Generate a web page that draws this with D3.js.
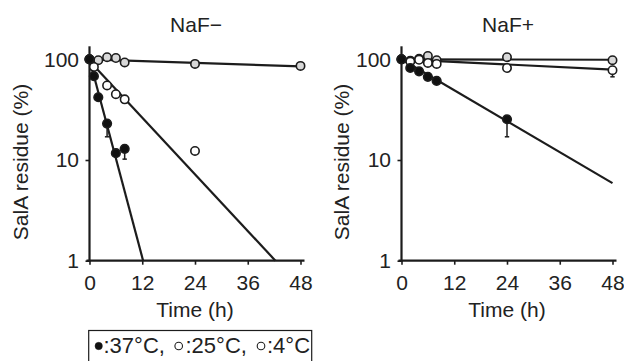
<!DOCTYPE html>
<html>
<head>
<meta charset="utf-8">
<script src="https://cdn.jsdelivr.net/npm/d3@7"></script>
<style>
  html, body { margin: 0; padding: 0; background: #fff; }
  svg { display: block; }
  text { font-family: "Liberation Sans", Arial, Helvetica, sans-serif; fill: #222; }
</style>
</head>
<body>
<svg id="chart" width="624" height="361"></svg>
<script>
/* ── Data ─────────────────────────────────────────────────────────── */
const xTicks = [0, 12, 24, 36, 48];
const yTicks = [1, 10, 100];
const panelTitles = ["NaF\u2212", "NaF+"];

/* NaF− */
const minus37Times = [0, 1, 2, 4, 6, 8];
const minus37 = [100, 68, 42, 23, 11.7, 12.9];
const minus37Low = [null, null, null, 17, null, 10.2];
const minus25Times = [0, 1, 4, 6, 8, 24];
const minus25 = [100, 84, 55, 45, 40, 12.3];
const minus4Times = [0, 2, 4, 6, 8, 24, 48];
const minus4 = [100, 98, 105, 103, 93, 90, 86];

/* NaF+ */
const plus37Times = [0, 2, 4, 6, 8, 24];
const plus37 = [100, 82, 76, 67, 61, 25.4];
const plus37Low = [null, null, null, 63, null, 17];
const plus25Times = [0, 2, 4, 6, 8, 24, 48];
const plus25 = [100, 95, 99, 92, 90, 82, 78];
const plus25Low = [null, null, null, null, null, null, 67];
const plus4Times = [0, 2, 4, 6, 8, 24, 48];
const plus4 = [100, 97, 101, 108, 98, 105, 98];

/* Fitted exponential-decay lines: [time, value] at both ends */
const minus37Fit = [[0, 100], [12.2, 1]];
const minus25Fit = [[0, 96], [42.3, 1]];
const minus4Fit  = [[0, 100], [48, 85]];
const plus37Fit  = [[0, 100], [48, 5.9]];
const plus25Fit  = [[0, 100], [48, 79]];
const plus4Fit   = [[0, 100], [48, 99]];

const legendItems = [
  { label: ":37\u00b0C,", fill: "#111", open: false },
  { label: ":25\u00b0C,", fill: "#fff", open: true },
  { label: ":4\u00b0C",   fill: "#fff", open: true },
];

/* ── Series styles ────────────────────────────────────────────────── */
const STYLE = {
  c37: { fill: "#111",    r: 4.3 },
  c25: { fill: "#ffffff", r: 4.2 },
  c4:  { fill: "#d8d8d8", r: 4.2 },
};

function series(times, values, low, fit, style) {
  return {
    points: times.map((t, i) => ({ t, v: values[i], low: low ? low[i] : null })),
    fit, style,
  };
}

const panels = [
  { title: panelTitles[0], left: 89.5, labelX: 28, series: [
      series(minus4Times, minus4, null, minus4Fit, STYLE.c4),
      series(minus25Times, minus25, null, minus25Fit, STYLE.c25),
      series(minus37Times, minus37, minus37Low, minus37Fit, STYLE.c37),
  ]},
  { title: panelTitles[1], left: 401.5, labelX: 349, series: [
      series(plus4Times, plus4, null, plus4Fit, STYLE.c4),
      series(plus25Times, plus25, plus25Low, plus25Fit, STYLE.c25),
      series(plus37Times, plus37, plus37Low, plus37Fit, STYLE.c37),
  ]},
];

/* ── Layout ───────────────────────────────────────────────────────── */
const TOP = 59.3;
const W = 211, H = 201.4;
const INK = "#1c1c1c";

const svg = d3.select("#chart");
const x = d3.scaleLinear().domain([0, 48]).range([0, W]);
const y = d3.scaleLog().domain([1, 100]).range([H, 0]);

panels.forEach(p => {
  const g = svg.append("g").attr("transform", `translate(${p.left},${TOP})`);

  /* title */
  g.append("text")
    .attr("x", x(24) + 1)
    .attr("y", 31.5 - TOP)
    .attr("text-anchor", "middle")
    .style("font-size", "21px")
    .text(p.title);

  /* y axis */
  const yAxis = g.append("g")
    .call(d3.axisLeft(y).tickValues(yTicks).tickFormat(d3.format("d"))
      .tickSize(4).tickPadding(6.5));
  yAxis.select(".domain").remove();
  yAxis.selectAll("line").attr("stroke", INK).attr("stroke-width", 1.6);
  yAxis.selectAll("text").style("font-size", "21px").attr("fill", "#222")
    .style("font-family", "\"Liberation Sans\", Arial, sans-serif");

  /* x axis */
  const xAxis = g.append("g").attr("transform", `translate(0,${H})`)
    .call(d3.axisBottom(x).tickValues(xTicks).tickSize(4).tickPadding(10.3));
  xAxis.select(".domain").remove();
  xAxis.selectAll("line").attr("stroke", INK).attr("stroke-width", 1.6);
  xAxis.selectAll("text").style("font-size", "21px").attr("fill", "#222")
    .style("font-family", "\"Liberation Sans\", Arial, sans-serif");

  /* axis lines, slightly overshooting the data range like the original */
  g.append("line")
    .attr("x1", 0).attr("x2", 0)
    .attr("y1", y(100) - 13).attr("y2", H + 1)
    .attr("stroke", INK).attr("stroke-width", 2.2);
  g.append("line")
    .attr("x1", -3).attr("x2", x(48) + 4)
    .attr("y1", H).attr("y2", H)
    .attr("stroke", INK).attr("stroke-width", 2.2);

  /* axis titles */
  g.append("text")
    .attr("x", x(24))
    .attr("y", 316.7 - TOP)
    .attr("text-anchor", "middle")
    .style("font-size", "21px")
    .text("Time (h)");
  svg.append("text")
    .attr("transform", `translate(${p.labelX},162) rotate(-90)`)
    .attr("text-anchor", "middle")
    .style("font-size", "21px")
    .text("SalA residue (%)");

  /* fitted lines */
  const line = d3.line().x(d => x(d[0])).y(d => y(d[1]));
  p.series.forEach(s => {
    g.append("path")
      .attr("d", line(s.fit))
      .attr("fill", "none")
      .attr("stroke", INK)
      .attr("stroke-width", 2.2);
  });

  /* error bars (lower half only) */
  p.series.forEach(s => {
    s.points.filter(d => d.low != null).forEach(d => {
      g.append("line")
        .attr("x1", x(d.t)).attr("x2", x(d.t))
        .attr("y1", y(d.v)).attr("y2", y(d.low))
        .attr("stroke", INK).attr("stroke-width", 1.5);
      g.append("line")
        .attr("x1", x(d.t) - 2.2).attr("x2", x(d.t) + 2.2)
        .attr("y1", y(d.low)).attr("y2", y(d.low))
        .attr("stroke", INK).attr("stroke-width", 1.5);
    });
  });

  /* markers */
  p.series.forEach(s => {
    g.append("g").selectAll("circle")
      .data(s.points)
      .enter().append("circle")
        .attr("cx", d => x(d.t))
        .attr("cy", d => y(d.v))
        .attr("r", s.style.r)
        .attr("fill", s.style.fill)
        .attr("stroke", INK)
        .attr("stroke-width", 1.6);
  });
});

/* ── Legend box ───────────────────────────────────────────────────── */
const legend = svg.append("g");
legend.append("rect")
  .attr("x", 88.7).attr("y", 330.5)
  .attr("width", 223).attr("height", 40)
  .attr("fill", "none")
  .attr("stroke", INK)
  .attr("stroke-width", 1.2);

const legendCx = [98.7, 178.7, 261];
const legendTx = [103.5, 185.5, 267];
legendItems.forEach((item, i) => {
  legend.append("circle")
    .attr("cx", legendCx[i]).attr("cy", 346)
    .attr("r", item.open ? 3.8 : 3.7)
    .attr("fill", item.fill)
    .attr("stroke", INK)
    .attr("stroke-width", item.open ? 1.1 : 0.5);
  legend.append("text")
    .attr("x", legendTx[i]).attr("y", 352.7)
    .style("font-size", "22px")
    .text(item.label);
});
</script>
</body>
</html>
